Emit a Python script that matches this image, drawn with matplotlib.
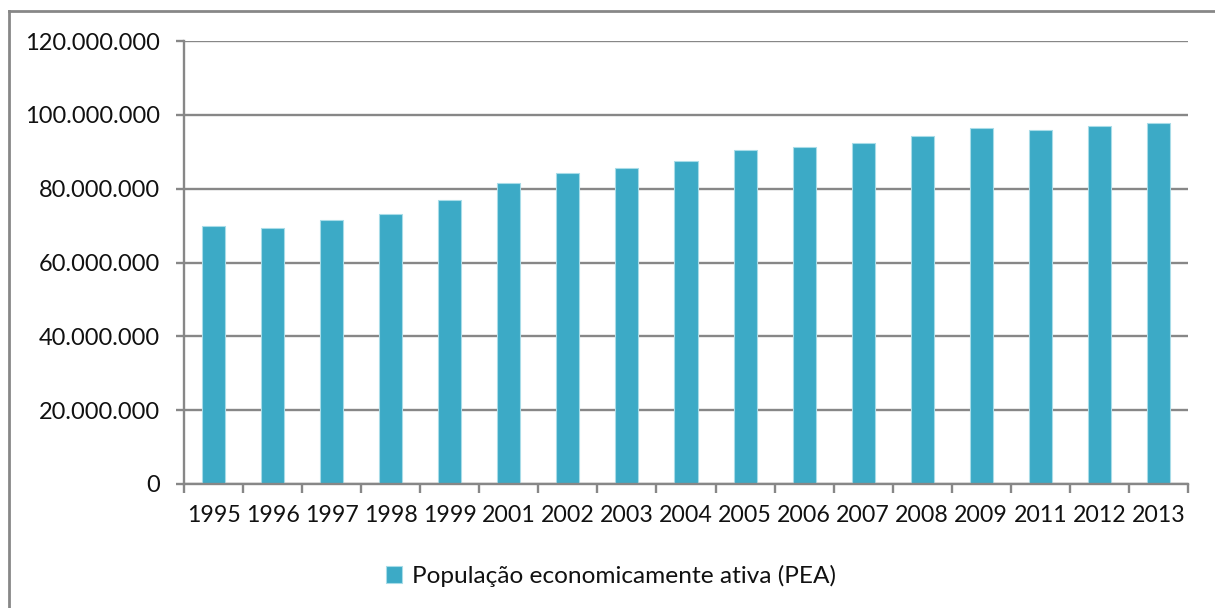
import numpy as np
import matplotlib.pyplot as plt
from matplotlib.lines import Line2D

years = ['1995', '1996', '1997', '1998', '1999', '2001', '2002', '2003', '2004',
         '2005', '2006', '2007', '2008', '2009', '2011', '2012', '2013']
pea = [70.0, 69.3, 71.4, 73.1, 77.0, 81.4, 84.2, 85.6, 87.6,
       90.4, 91.4, 92.5, 94.3, 96.3, 95.9, 97.0, 97.7]  # milhões
pea = [v * 1e6 for v in pea]

yticks = [0, 20e6, 40e6, 60e6, 80e6, 100e6, 120e6]
ytick_labels = ['0', '20.000.000', '40.000.000', '60.000.000', '80.000.000',
                '100.000.000', '120.000.000']

plt.rcParams['font.family'] = ['Lato', 'DejaVu Sans']
grey = '#878787'
bar_color = '#3CAAC6'

fig = plt.figure(figsize=(12.15, 6.08), dpi=100)
ax = fig.add_axes([184/1215, 1 - 484/608, (1188-184)/1215, (484-41)/608])

x = np.arange(len(years))
ax.bar(x, pea, width=0.39, color=bar_color, edgecolor='#A8DCE8', linewidth=0.8,
       label='População economicamente ativa (PEA)', zorder=3)

ax.set_xlim(-0.5, len(years) - 0.5)
ax.set_ylim(0, 120e6)
ax.set_yticks(yticks)
ax.set_yticklabels(ytick_labels)
ax.set_xticks(x)
ax.set_xticklabels(years)
ax.set_xticks(np.arange(-0.5, len(years)), minor=True)

ax.yaxis.grid(True, color=grey, linewidth=1.7, zorder=0)
ax.set_axisbelow(True)
for s in ['top', 'right']:
    ax.spines[s].set_visible(False)
for s in ['left', 'bottom']:
    ax.spines[s].set_color(grey)
    ax.spines[s].set_linewidth(1.7)
ax.spines['bottom'].set_zorder(4)

ax.tick_params(axis='y', length=5.5, width=1.7, color=grey, pad=12,
               labelsize=17, labelcolor='#111111')
ax.tick_params(axis='x', which='major', length=0, pad=15, labelsize=16.7,
               labelcolor='#111111')
ax.tick_params(axis='x', which='minor', length=6.5, width=1.7, color=grey)

# moldura do gráfico
fig.add_artist(Line2D([8.5/1215, 8.5/1215], [0, 1 - 11/608], color=grey,
                      linewidth=2, transform=fig.transFigure))
fig.add_artist(Line2D([8.5/1215, 1], [1 - 11/608, 1 - 11/608], color=grey,
                      linewidth=2, transform=fig.transFigure))

leg = fig.legend(loc='center', bbox_to_anchor=(611/1215, 1 - 576/608), frameon=False,
                 fontsize=17.6, handlelength=0.65, handleheight=0.65, handletextpad=0.4)
for t in leg.get_texts():
    t.set_color('#111111')

plt.savefig('out.png', dpi=100)
